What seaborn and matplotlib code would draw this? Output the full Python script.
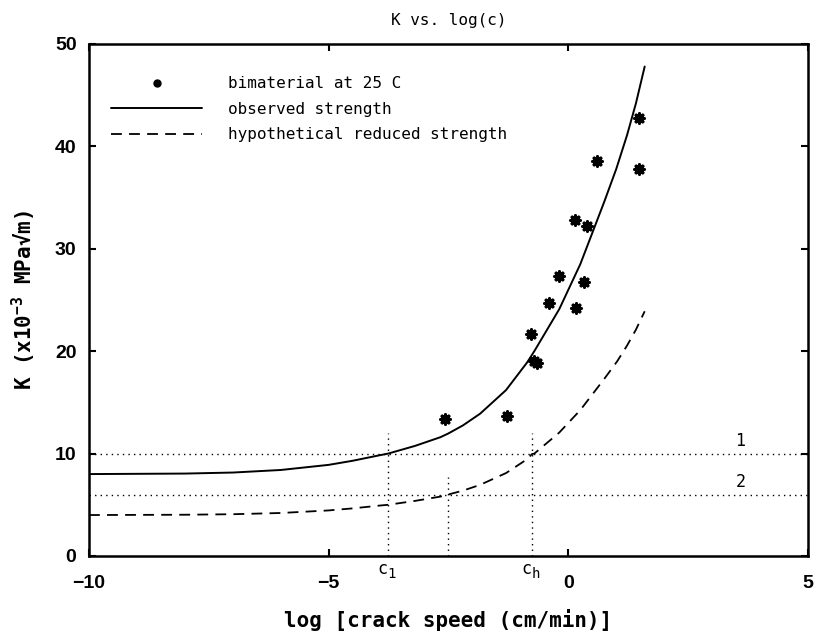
import numpy as np
import pandas as pd
import matplotlib
matplotlib.use("Agg")
import matplotlib.pyplot as plt
import seaborn as sns
from matplotlib.lines import Line2D

# ---- data ----
pts_x = [1.47, 0.60, 1.47, 0.14, 0.38, -0.19, 0.33, -0.40, 0.17, -0.77, -0.72, -0.65, -2.57, -1.28]
pts_y = [42.8, 38.6, 37.8, 32.8, 32.2, 27.3, 26.8, 24.7, 24.2, 21.7, 19.0, 18.8, 13.4, 13.7]

obs_x = [-10, -8, -7, -6, -5, -4.5, -3.925, -3.76, -3.2, -2.67, -2.51, -2.2, -1.84, -1.3, -0.86,
         -0.71, -0.19, 0.25, 0.75, 1.0, 1.225, 1.41, 1.593]
obs_y = [8.0, 8.05, 8.15, 8.4, 8.9, 9.3, 9.85, 10.0, 10.75, 11.6, 11.95, 12.75, 13.9, 16.2, 18.9,
         20.0, 24.1, 28.5, 34.6, 37.8, 41.1, 44.2, 47.8]

red_x = [-10, -8, -7, -6, -5, -4.5, -3.925, -3.76, -3.2, -2.67, -2.51, -2.2, -1.84, -1.3, -0.86,
         -0.76, -0.71, -0.19, 0.25, 0.75, 1.017, 1.225, 1.41, 1.593]
red_y = [4.0, 4.03, 4.08, 4.2, 4.45, 4.65, 4.93, 5.0, 5.38, 5.8, 6.0, 6.38, 6.95, 8.1, 9.45,
         9.95, 10.0, 12.05, 14.25, 17.3, 19.0, 20.55, 22.1, 23.9]

hlines_y = [10, 6]
hline_labels = ["1", "2"]
vlines_x = [-3.76, -2.51, -0.76]
vlines_top = [12.0, 7.7, 12.0]

legend_labels = ["bimaterial at 25 C", "observed strength", "hypothetical reduced strength"]
x_ticks = [-10, -5, 0, 5]
y_ticks = [0, 10, 20, 30, 40, 50]

sns.set_theme(style="white")
plt.rcParams['font.family'] = ['DejaVu Sans Mono', 'DejaVu Sans']
plt.rcParams['mathtext.fontset'] = 'custom'
plt.rcParams['mathtext.rm'] = 'DejaVu Sans Mono:bold'
plt.rcParams['text.color'] = 'black'
plt.rcParams['axes.labelcolor'] = 'black'

fig = plt.figure(figsize=(8.16, 6.36), dpi=100)
ax = fig.add_axes([89/816, 1-556/636, (808-89)/816, (556-44)/636])

obs = pd.DataFrame({"x": obs_x, "y": obs_y})
red = pd.DataFrame({"x": red_x, "y": red_y})
pts = pd.DataFrame({"x": pts_x, "y": pts_y})

for yv in hlines_y:
    ax.plot([-10, 5], [yv, yv], color="black", lw=1.0, linestyle=(0, (1, 3)))
for xv, top in zip(vlines_x, vlines_top):
    ax.plot([xv, xv], [0, top], color="black", lw=1.0, linestyle=(0, (1, 3)))

sns.lineplot(data=obs, x="x", y="y", ax=ax, color="black", lw=1.4, sort=True)
sns.lineplot(data=red, x="x", y="y", ax=ax, color="black", lw=1.3, sort=True)
ax.lines[-1].set_linestyle((0, (6, 4)))
sns.scatterplot(data=pts, x="x", y="y", ax=ax, marker=(8, 2, 0), s=45,
                color="black", linewidth=2.3, edgecolor="black")

ax.set_xlim(-10, 5)
ax.set_ylim(0, 50)
ax.set_xticks(x_ticks)
ax.set_yticks(y_ticks)
lab_font = dict(family="Liberation Sans", weight="bold", size=14, color="black")
ax.set_xticklabels([("\u2212" + str(abs(v))) if v < 0 else str(v) for v in x_ticks], fontdict=lab_font)
ax.set_yticklabels([str(v) for v in y_ticks], fontdict=lab_font)
ax.tick_params(axis="x", direction="in", length=5, width=1.5, pad=14, top=True, bottom=True,
               color="black", labelcolor="black")
ax.tick_params(axis="y", direction="in", length=5, width=1.5, pad=9, left=True, right=True,
               color="black", labelcolor="black")
for s in ax.spines.values():
    s.set_linewidth(1.8)
    s.set_color("black")

ax.set_xlabel("log [crack speed (cm/min)]", fontsize=15, fontweight="bold", labelpad=12, color="black")
ax.set_ylabel("K (x10$^{-3}$ MPa\u221Am)", fontsize=15, fontweight="bold", labelpad=12, color="black")
ax.set_title("K vs. log(c)", fontsize=11.5, pad=14, color="black")

# annotations
for xv, sub in [(-3.76, "1"), (-0.76, "h")]:
    ax.text(xv - 0.12, -1.3, "c", fontsize=12, ha="center", va="center", clip_on=False)
    ax.text(xv + 0.08, -1.75, sub, fontsize=10, ha="center", va="center", clip_on=False)
for yv, lab in zip(hlines_y, hline_labels):
    ax.text(3.59, yv + 1.2, lab, fontsize=12, ha="center", va="center")

handles = [Line2D([], [], color="black", marker="o", markersize=5, linestyle="none"),
           Line2D([], [], color="black", lw=1.4),
           Line2D([], [], color="black", lw=1.3, linestyle=(0, (6, 4)))]
ax.legend(handles, legend_labels, loc="upper left", bbox_to_anchor=(0.031, 0.937),
          frameon=False, fontsize=11.5, handlelength=5.7, handletextpad=1.6,
          labelspacing=0.66, borderpad=0, borderaxespad=0)

fig.savefig("out.png", dpi=100)
